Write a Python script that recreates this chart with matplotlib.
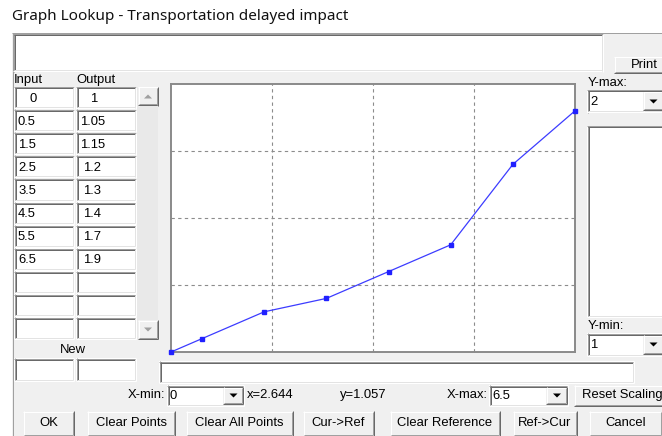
import numpy as np
import matplotlib
matplotlib.use("Agg")
import matplotlib.pyplot as plt
from matplotlib.patches import Rectangle, Polygon

# ---- data ----
title = "Graph Lookup - Transportation delayed impact"
inputs = [0, 0.5, 1.5, 2.5, 3.5, 4.5, 5.5, 6.5]
outputs = [1, 1.05, 1.15, 1.2, 1.3, 1.4, 1.7, 1.9]
x_min, x_max = 0, 6.5
y_min, y_max = 1, 2
cursor_x, cursor_y = 2.644, 1.057
n_rows = 11
buttons = ["OK", "Clear Points", "Clear All Points", "Cur->Ref",
           "Clear Reference", "Ref->Cur", "Cancel"]

W, H = 662, 436
fig = plt.figure(figsize=(W / 100, H / 100), dpi=100)
fig.patch.set_facecolor("white")
bg = fig.add_axes([0, 0, 1, 1])
bg.set_xlim(0, W)
bg.set_ylim(H, 0)
bg.axis("off")

PX = 0.72  # one pixel in points
FONT = "Liberation Sans"
FS = 9.4


def hline(x0, x1, y, c, lw=1):
    bg.plot([x0, x1], [y, y], color=c, lw=lw * PX, solid_capstyle="butt", zorder=3)


def vline(x, y0, y1, c, lw=1):
    bg.plot([x, x], [y0, y1], color=c, lw=lw * PX, solid_capstyle="butt", zorder=3)


def sunken(x0, y0, x1, y1, fill="white"):
    bg.add_patch(Rectangle((x0, y0), x1 - x0, y1 - y0, facecolor=fill,
                           edgecolor="none", zorder=2))
    hline(x0, x1, y0 + 0.5, "#a0a0a0")
    vline(x0 + 0.5, y0, y1, "#a0a0a0")
    hline(x0 + 1, x1 - 1, y0 + 1.5, "#696969")
    vline(x0 + 1.5, y0 + 1, y1 - 1, "#696969")
    hline(x0, x1, y1 - 0.5, "#ffffff")
    vline(x1 - 0.5, y0, y1, "#ffffff")
    hline(x0 + 1, x1 - 1, y1 - 1.5, "#e3e3e3")
    vline(x1 - 1.5, y0 + 1, y1 - 1, "#e3e3e3")


def raised(x0, y0, x1, y1, fill="#f0f0f0"):
    bg.add_patch(Rectangle((x0, y0), x1 - x0, y1 - y0, facecolor=fill,
                           edgecolor="none", zorder=2))
    hline(x0, x1, y0 + 0.5, "#ffffff")
    vline(x0 + 0.5, y0, y1, "#ffffff")
    hline(x0, x1, y1 - 0.5, "#696969")
    vline(x1 - 0.5, y0, y1, "#696969")
    hline(x0 + 1, x1 - 1, y1 - 1.5, "#a0a0a0")
    vline(x1 - 1.5, y0 + 1, y1 - 1, "#a0a0a0")


def label(x, y, s, ha="left", size=FS, color="black"):
    bg.text(x, y, s, ha=ha, va="center", fontsize=size, family=FONT,
            color=color, zorder=5)


def tri(cx, cy, w, h, c, up=False):
    if up:
        pts = [(cx - w / 2, cy + h / 2), (cx + w / 2, cy + h / 2), (cx, cy - h / 2)]
    else:
        pts = [(cx - w / 2, cy - h / 2), (cx + w / 2, cy - h / 2), (cx, cy + h / 2)]
    bg.add_patch(Polygon(pts, closed=True, facecolor=c, edgecolor="none", zorder=4))


def combo(x0, y0, x1, y1, bx, text):
    sunken(x0, y0, x1, y1)
    raised(bx, y0 + 2, x1 - 1, y1 - 2)
    tri((bx + x1) / 2, (y0 + y1) / 2, 8, 4, "black")
    label(x0 + 3, (y0 + y1) / 2 + 0.5, text)


# title
bg.text(12, 16, title, ha="left", va="center", fontsize=11, family="Noto Sans",
        color="#111111", zorder=5)

# dialog body
bg.add_patch(Rectangle((12, 33), W - 12, H - 33, facecolor="#f0f0f0",
                       edgecolor="none", zorder=1))
hline(12, W, 33, "#a0a0a0")
vline(12.5, 33, H, "#a0a0a0")

# top text box
sunken(13, 34, 603, 72)

# Print button
raised(614, 57, 668, 74)
label(644, 65, "Print", ha="center")

# Y-max
label(588, 83, "Y-max:")
combo(587, 90, 664, 113, 643, str(y_max))
sunken(587, 126, 666, 317)
label(588, 326, "Y-min:")
combo(587, 333, 664, 356, 643, str(y_min))

# table
label(14, 79.5, "Input")
label(76, 79.5, "Output")
for i in range(n_rows):
    top = 87 + 23 * i
    sunken(14, top, 74, top + 22)
    sunken(76, top, 136, top + 22)
    if i < len(inputs):
        si = f"{inputs[i]:g}"
        so = f"{outputs[i]:g}"
        dx_i = 16 if len(si) == 1 else 4
        dx_o = 14 if len(so) == 1 else (7 if len(so) == 3 else 4)
        label(14 + dx_i, top + 11.5, si)
        label(76 + dx_o, top + 11.5, so)

# scroll bar
bg.add_patch(Rectangle((137, 87), 21, 253, facecolor="#e9e9e9",
                       edgecolor="none", zorder=2))
raised(138, 87, 158, 106)
tri(148, 96.5, 8, 4, "#a0a0a0", up=True)
raised(138, 320, 158, 339)
tri(148, 329.5, 8, 4, "#a0a0a0")

# New
label(73, 350, "New", ha="center")
sunken(14, 358, 74, 381)
sunken(76, 358, 136, 381)

# below-plot box
sunken(159, 361, 634, 383)

# bottom controls
label(165, 395, "X-min:", ha="right")
combo(167, 385, 244, 406, 223, f"{x_min:g}")
label(247, 395, f"x={cursor_x:.3f}")
label(340, 395, f"y={cursor_y:.3f}")
label(488, 395, "X-max:", ha="right")
combo(489, 385, 568, 406, 546, f"{x_max:g}")
raised(574, 385, 672, 406)
label(582, 395, "Reset Scaling")

btn_x = [(23, 74), (87, 175), (186, 293), (303, 374), (390, 500), (513, 577), (589, 662)]
for (a, b), name in zip(btn_x, buttons):
    raised(a, 411, b, 436)
    label((a + b) / 2, 423, name, ha="center")

# plot area
ax = fig.add_axes([171 / W, 1 - 352 / H, 404 / W, 268 / H], zorder=6)
ax.set_facecolor("white")
ax.set_xlim(x_min, x_max)
ax.set_ylim(y_min, y_max)
ax.set_xticks(np.linspace(x_min, x_max, 5)[1:-1])
ax.set_yticks(np.linspace(y_min, y_max, 5)[1:-1])
ax.tick_params(length=0, labelbottom=False, labelleft=False)
ax.grid(True, color="#8c8c8c", linestyle=(0, (3, 3)), linewidth=0.8)
for sp in ax.spines.values():
    sp.set_color("#8a8a8a")
    sp.set_linewidth(1.4)
ax.plot(inputs, outputs, color="#3c3cff", lw=0.9, marker="s", markersize=3,
        markerfacecolor="#2020ff", markeredgecolor="#2020ff", clip_on=False, zorder=5)

fig.savefig("out.png", dpi=100)
